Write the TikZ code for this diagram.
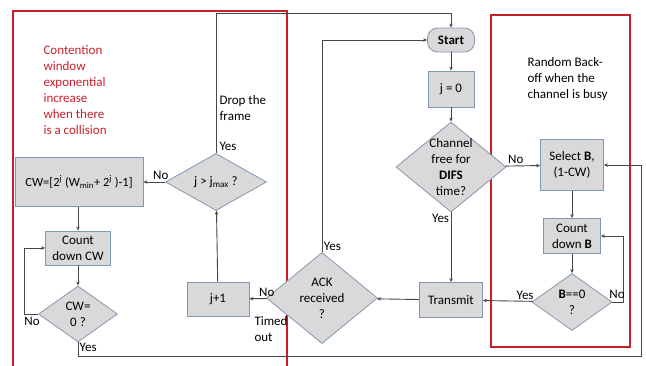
\documentclass[tikz,border=0pt]{standalone}
\usepackage{fontspec}
\setmainfont{Carlito}
\usetikzlibrary{shapes.geometric,arrows.meta}
\definecolor{boxfill}{RGB}{217,217,217}
\definecolor{boxline}{RGB}{132,151,176}
\definecolor{redline}{RGB}{200,30,40}
\definecolor{wire}{RGB}{70,70,70}
\begin{document}
\begin{tikzpicture}[x=1pt, y=-1pt, font=\fontsize{13}{16}\selectfont,
    >={Stealth[length=4pt,width=3.5pt]},
    box/.style={draw=boxline, fill=boxfill, align=center, inner sep=0pt, line width=0.8pt},
    test/.style={diamond, draw=boxline, fill=boxfill, inner sep=0pt, line width=0.8pt},
    wire/.style={draw=wire, line width=0.9pt},
    area/.style={color=redline, line width=1.1pt},
    note/.style={anchor=north west, align=left},
    tag/.style={inner sep=1.5pt}]
\useasboundingbox (0,0) rectangle (646,365);

% the two coloured areas
\draw[area] (13,11) rectangle (287,370);
\draw[area] (491,15) rectangle (630,347);
\node[note, text=redline] (cwnote) at (40,42) {Contention\\window\\exponential\\increase\\when there\\is a collision};
\node[note] (bonote) at (524,54) {Random Back-\\off when the\\channel is busy};

% main column
\node[box, rounded corners=10pt, minimum width=47, minimum height=24] (start) at (451,40) {\textbf{Start}};
\node[box, minimum width=46, minimum height=36] (j0) at (451,89) {j = 0};
\node[test, minimum width=110, minimum height=90,
    label={[align=center]center:Channel\\free for\\\textbf{DIFS}\\time?}] (chan) at (451,167) {};
\node[box, minimum width=63, minimum height=35] (tx) at (451,300) {Transmit};

% back-off part
\node[box, minimum width=63, minimum height=51] (selb) at (572,165) {Select \textbf{B},\\(1-CW)};
\node[box, minimum width=57, minimum height=35] (cdb) at (572,236) {Count\\down \textbf{B}};
\node[test, minimum width=80, minimum height=57,
    label={[align=center]center:\textbf{B}==0\\?}] (bz) at (572,302) {};

% ack and retry
\node[test, minimum width=111, minimum height=91,
    label={[align=center]center:ACK\\received\\?}] (ack) at (322,298) {};
\node[box, minimum width=62, minimum height=34] (jp1) at (218,299) {j+1};
\node[test, minimum width=101, minimum height=57,
    label={center:j > j\textsubscript{max} ?}] (jmax) at (216,182) {};

% contention window
\node[box, minimum width=128, minimum height=49, font=\fontsize{12.5}{16}\selectfont] (cw) at (79,182)
    {CW=[2\textsuperscript{j} (W\textsubscript{min}+ 2\textsuperscript{j} )-1]};
\node[box, minimum width=65, minimum height=34] (cdcw) at (78,248) {Count\\down CW};
\node[test, minimum width=79, minimum height=56,
    label={[align=center]center:CW=\\0 ?}] (cz) at (78,314) {};

% connectors
\draw[wire, ->] (start) -- (j0);
\draw[wire, ->] (j0) -- (chan);
\draw[wire, ->] (chan) -- (selb) node[tag, pos=.3, above] {No};
\draw[wire, ->] (chan) -- (tx) node[tag, pos=0, below left] {Yes};
\draw[wire, ->] (selb) -- (cdb);
\draw[wire, ->] (cdb) -- (bz);
\draw[wire, ->] (bz.east) -- ++(11,0) |- (cdb.east);
\node[tag] (bzno) at (617,294) {No};
\draw[wire, ->] (bz) -- (tx) node[tag, pos=.15, above] {Yes};
\draw[wire, ->] (tx) -- (ack);
\draw[wire, ->] (ack) -- (jp1) node[tag, pos=0, above] {No};
\node[align=left, anchor=west] (tout) at (251,329) {Timed\\out};
\draw[wire, ->] (ack.north) |- (start.west) node[tag, pos=0, above right] {Yes};
\draw[wire, ->] (jp1) -- (jmax);
\draw[wire, ->] (jmax.north) |- ++(235,-140) -- (start.north);
\node[note] (drop) at (216,92) {Drop the\\frame};
\node[tag] (jyes) at (228,146) {Yes};
\draw[wire, ->] (jmax) -- (cw) node[tag, pos=.2, above] {No};
\draw[wire, ->] (cw.south -| cdcw) -- (cdcw);
\draw[wire, ->] (cdcw) -- (cz);
\draw[wire, ->] (cz.west) -- ++(-14,0) |- (cdcw.west);
\node[tag] (czno) at (32,321) {No};
\draw[wire, ->] (cz.south) |- ++(563,14) |- (selb.east);
\node[tag, anchor=north west] (czyes) at (78,341) {Yes};
\end{tikzpicture}
\end{document}
